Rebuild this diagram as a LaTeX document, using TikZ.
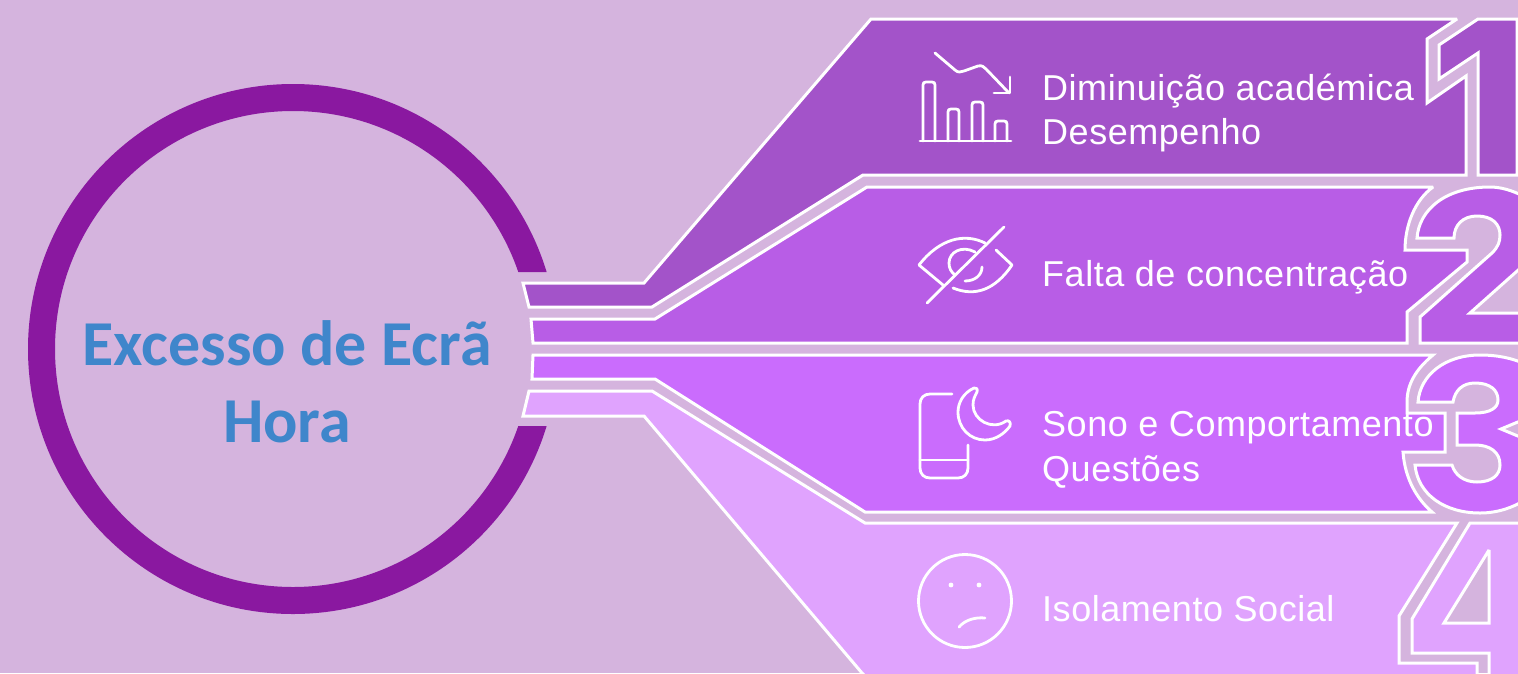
\documentclass[tikz,border=0pt]{standalone}
\usepackage{fontspec}
\setmainfont{Liberation Sans}[LetterSpace=1.5]
\newfontfamily\titlefont{Carlito}
\definecolor{bgc}{HTML}{D5B4DE}
\definecolor{ringc}{HTML}{8A18A0}
\definecolor{bandA}{HTML}{A353C9}
\definecolor{bandB}{HTML}{B85DE6}
\definecolor{bandC}{HTML}{CA6CFD}
\definecolor{bandD}{HTML}{E0A3FE}
\definecolor{titlec}{HTML}{3F86CB}
\tikzset{
  band/.style={draw=white,line width=3pt,line join=miter,miter limit=3},
  icon/.style={draw=white,line width=2.8pt,line cap=round,line join=round},
  label/.style={text=white,anchor=base west,inner sep=0pt,font=\fontsize{36}{40}\selectfont},
  headline/.style={text=titlec,anchor=base,inner sep=0pt,font=\titlefont\bfseries\fontsize{64}{68}\selectfont}
}
\begin{document}
\begin{tikzpicture}[x=1pt,y=-1pt]
\useasboundingbox (0,0) rectangle (1518,673);
\clip (0,0) rectangle (1518,673);
\fill[bgc] (0,0) rectangle (1518,673);
% ring
\begin{scope}
\clip (0,0) -- (620,0) -- (620,272) -- (293,272) -- (293,426) -- (620,426) -- (620,673) -- (0,673) -- cycle;
\draw[ringc,line width=27pt] (293,349) circle[radius=251.5];
\end{scope}
% band 1
\path[band,fill=bandA] (523,283) -- (644,283) -- (871,19) -- (1457,19) -- (1427,39) -- (1427,103) -- (1466,76) -- (1466,175) -- (863,175) -- (652,307) -- (529,307) -- cycle;
\path[band,fill=bandA] (1478,19) -- (1517,19) -- (1517,175) -- (1478,175) -- (1478,53) -- (1439,79) -- (1439,45) -- cycle;
% band 2
\path[band,fill=bandB] (531,319) -- (655,319) -- (867,187) -- (1433,187) .. controls (1415,200) and (1405,225) .. (1405,250) -- (1467,250) -- (1467,262) -- (1407,312) -- (1407,343) -- (533,343) -- cycle;
\path[band,fill=bandB] (1417,238) .. controls (1419,210) and (1445,187) .. (1490,187) .. controls (1500,187) and (1512,190) .. (1525,197) -- (1525,264) -- (1470,313) -- (1525,313) -- (1525,343) -- (1420,343) -- (1420,317) -- (1492,253) .. controls (1498,247) and (1500,242) .. (1500,235) .. controls (1500,224) and (1492,216) .. (1477,216) .. controls (1463,216) and (1454,225) .. (1454,238) -- cycle;
% band 3
\path[band,fill=bandC] (533,355) -- (1433,355) .. controls (1415,370) and (1407,385) .. (1407,402) -- (1407,413) -- (1445,413) -- (1445,452) -- (1403,452) .. controls (1405,480) and (1418,500) .. (1432,512) -- (865,512) -- (655,379) -- (532,379) -- cycle;
\path[band,fill=bandC] (1418,402) .. controls (1420,375) and (1445,355) .. (1480,355) .. controls (1497,355) and (1512,358) .. (1525,364) -- (1525,419) -- (1501,429) -- (1525,439) -- (1525,500) .. controls (1512,508) and (1497,513) .. (1480,513) .. controls (1445,513) and (1418,495) .. (1415,465) -- (1452,465) .. controls (1455,475) and (1464,482) .. (1477,482) .. controls (1492,482) and (1500,475) .. (1500,465) .. controls (1500,452) and (1490,445) .. (1475,445) -- (1457,445) -- (1457,413) -- (1475,413) .. controls (1490,413) and (1498,408) .. (1498,400) .. controls (1498,390) and (1490,383) .. (1475,383) .. controls (1463,383) and (1455,390) .. (1453,402) -- cycle;
% band 4
\path[band,fill=bandD] (529,391) -- (652,391) -- (865,523) -- (1457,523) -- (1399,616) -- (1399,663) -- (1477,663) -- (1477,690) -- (880,690) -- (862,673) -- (644,416) -- (523,416) -- cycle;
\path[band,fill=bandD,even odd rule] (1470,523) -- (1530,523) -- (1530,690) -- (1489,690) -- (1489,653) -- (1412,653) -- (1412,619) -- cycle (1489,550) -- (1444,623) -- (1489,623) -- cycle;
% icon: falling chart
\draw[icon] (935,53) -- (955,70) .. controls (958,73) and (961,72) .. (964,71) -- (978,66) .. controls (982,65) and (984,67) .. (986,69) -- (1009,93);
\draw[icon] (1010,77) -- (1010,93) -- (994,93);
\draw[icon] (920,141) -- (1011,141);
\draw[icon] (923,141) -- (923,85) .. controls (923,83) and (924,82) .. (926,82) -- (932,82) .. controls (934,82) and (935,83) .. (935,85) -- (935,141);
\draw[icon] (948,141) -- (948,112) .. controls (948,110) and (949,109) .. (951,109) -- (956,109) .. controls (958,109) and (959,110) .. (959,112) -- (959,141);
\draw[icon] (972,141) -- (972,105) .. controls (972,103) and (973,102) .. (975,102) -- (980,102) .. controls (982,102) and (983,103) .. (983,105) -- (983,141);
\draw[icon] (995,141) -- (995,124) .. controls (995,122) and (996,121) .. (998,121) -- (1004,121) .. controls (1006,121) and (1007,122) .. (1007,124) -- (1007,141);
% icon: crossed eye
\draw[icon] (1004,227) -- (927,303);
\draw[icon] (985,243) .. controls (965,233) and (940,238) .. (919,265) -- (943,285);
\draw[icon] (996,250) -- (1012,265) .. controls (995,290) and (975,297) .. (953,288);
\draw[icon] (965,281) .. controls (975,281) and (982,275) .. (982,267);
\draw[icon] (975,252) .. controls (962,245) and (949,252) .. (949,263) .. controls (949,268) and (951,272) .. (955,275);
% icon: phone and moon
\draw[icon] (952,394) -- (930,394) .. controls (924,394) and (920,398) .. (920,404) -- (920,468) .. controls (920,474) and (924,478) .. (930,478) -- (958,478) .. controls (964,478) and (968,474) .. (968,468) -- (968,445);
\draw[icon] (920,460) -- (968,460);
\draw[icon] (974,388) .. controls (963,393) and (958,403) .. (958,412) .. controls (958,428) and (970,440) .. (985,440) .. controls (996,440) and (1005,433) .. (1010,426) .. controls (1011,422) and (1009,420) .. (1006,421) .. controls (992,431) and (973,420) .. (973,405) .. controls (973,399) and (975,396) .. (977,392) .. controls (978,389) and (976,387) .. (974,388) -- cycle;
% icon: sad face
\draw[icon] (965,601) circle[radius=46.5];
\fill[white] (951,585) circle[radius=2.4];
\fill[white] (979,585) circle[radius=2.4];
\draw[icon] (959,627) .. controls (965,620) and (975,617) .. (985,618);
% texts
\node[headline] (titleA) at (287,365) {Excesso de Ecrã};
\node[headline] (titleB) at (287,442) {Hora};
\node[label] (a1) at (1042,100) {Diminuição académica};
\node[label] (a2) at (1042,144) {Desempenho};
\node[label] (b1) at (1042,286) {Falta de concentração};
\node[label] (c1) at (1042,436) {Sono e Comportamento};
\node[label] (c2) at (1042,481) {Questões};
\node[label] (d1) at (1042,621) {Isolamento Social};
\end{tikzpicture}
\end{document}
